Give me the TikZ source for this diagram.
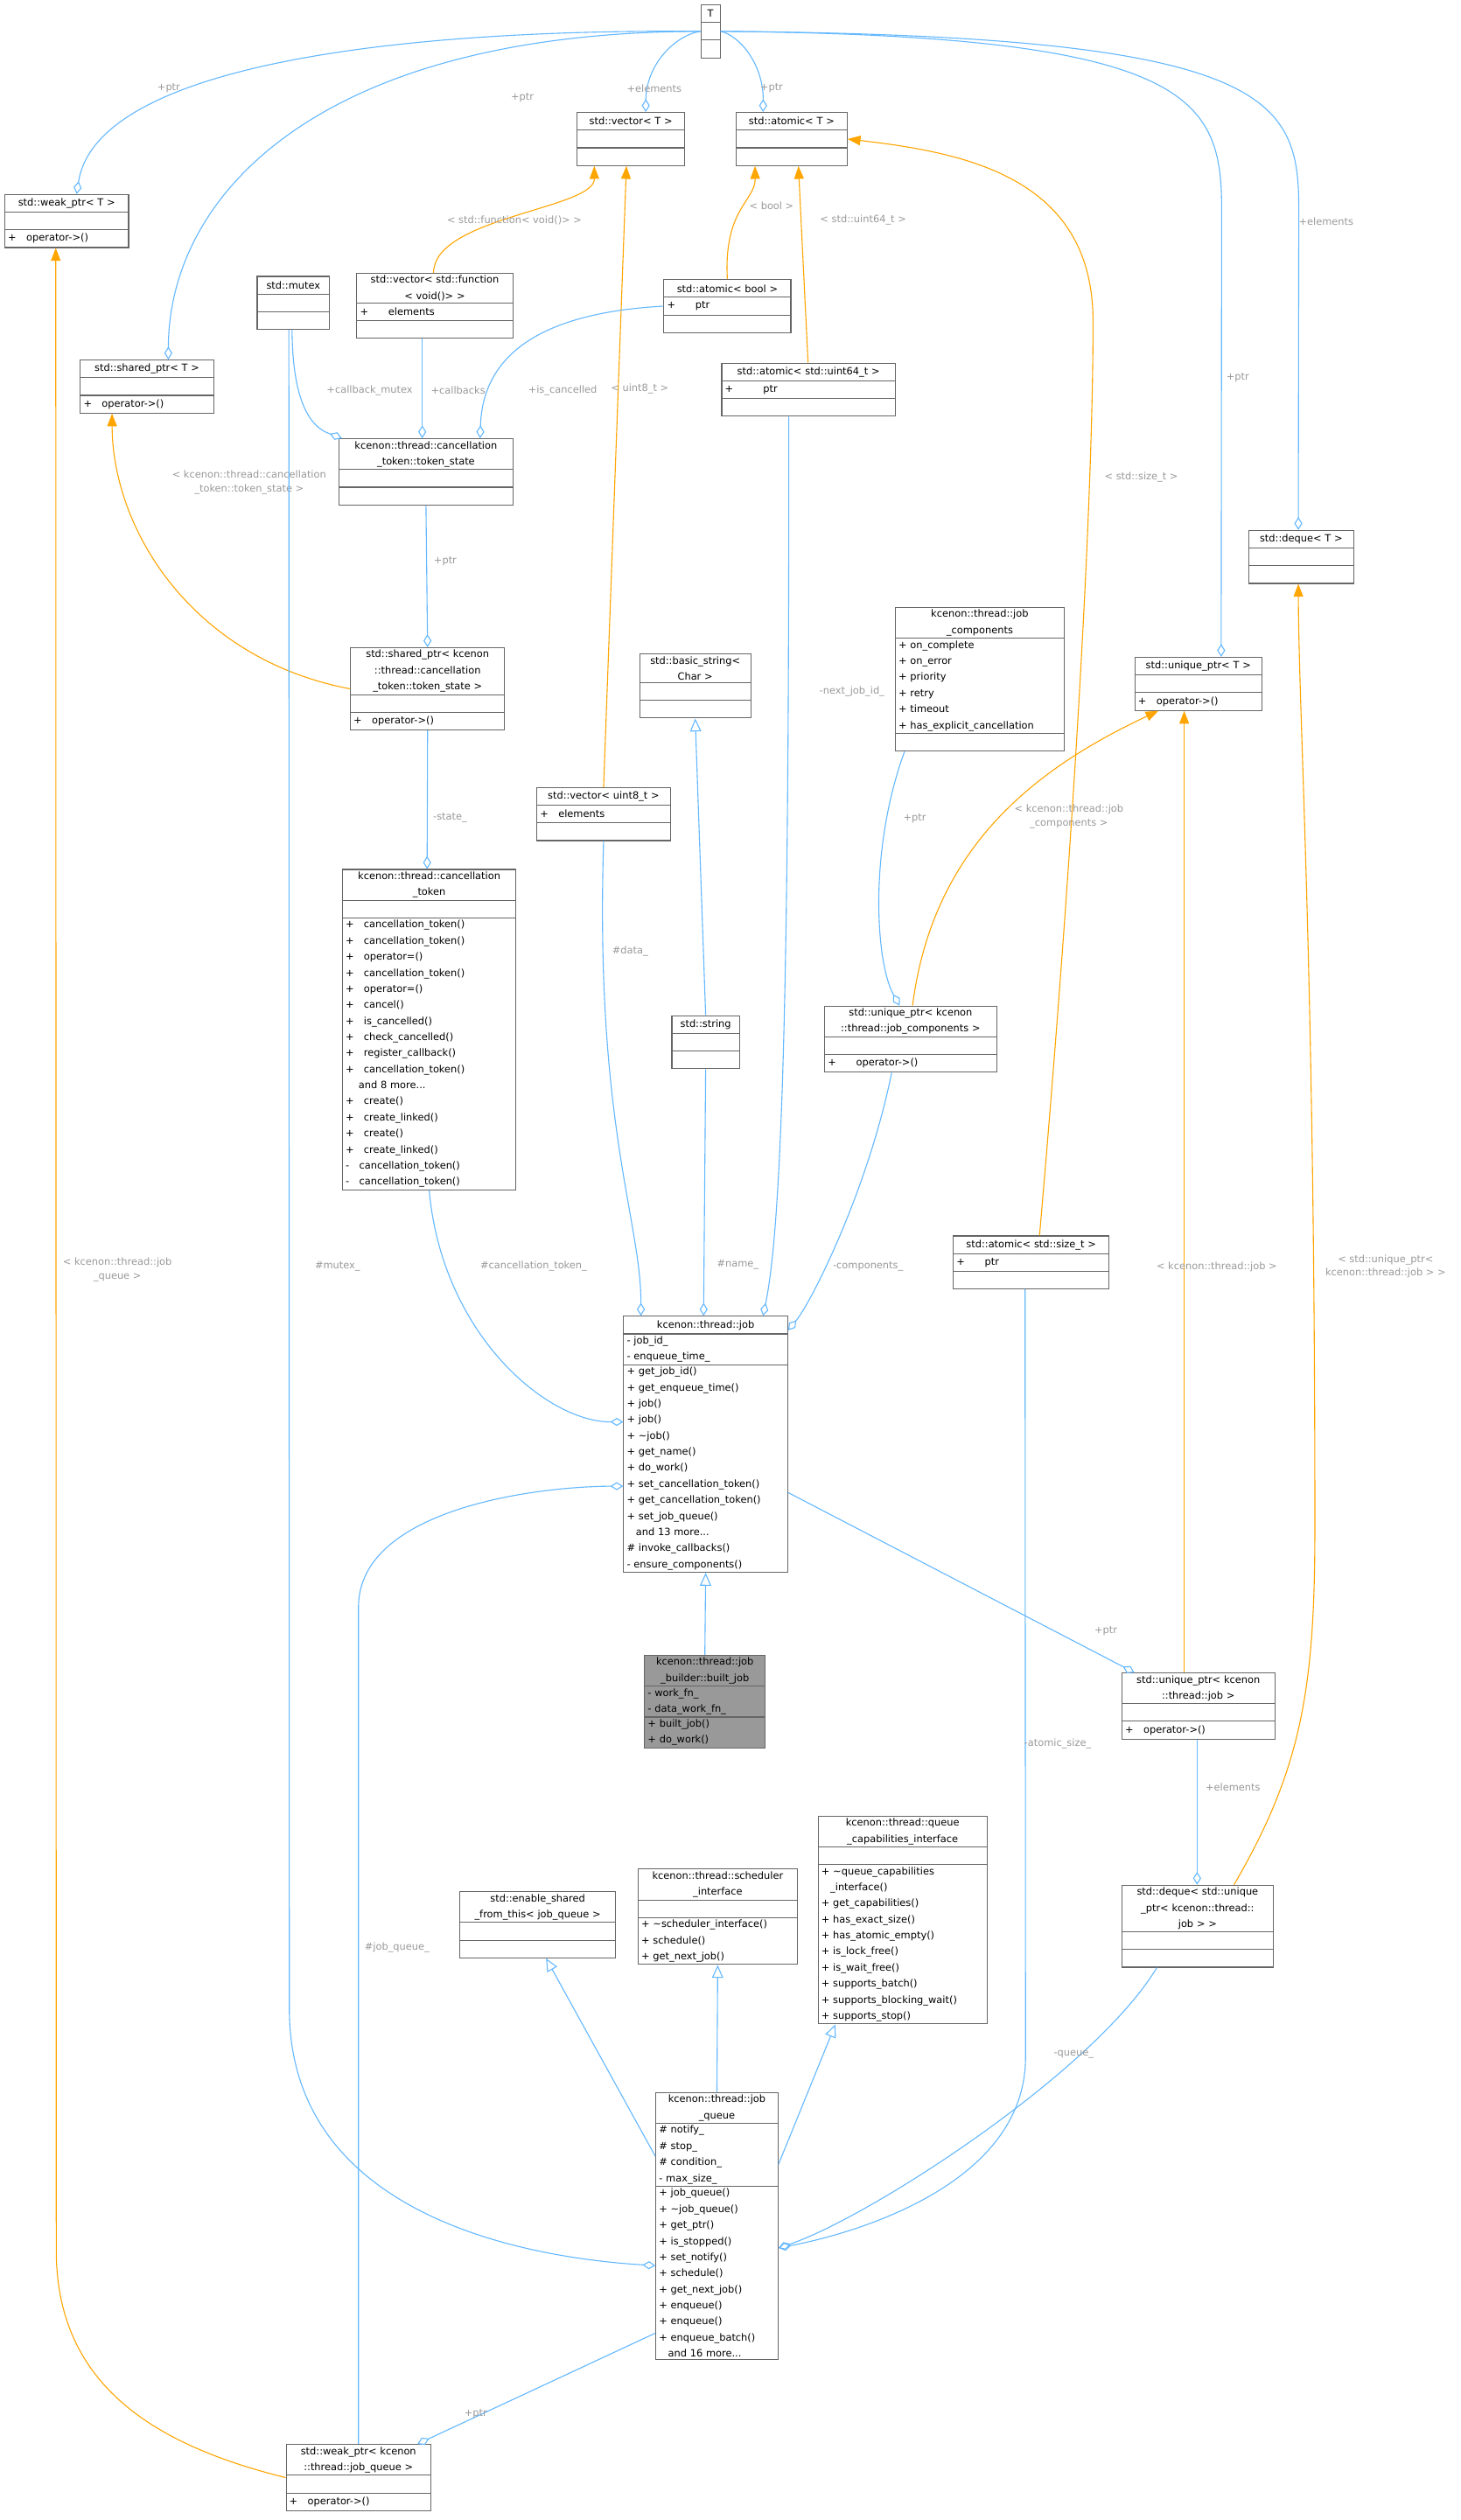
\documentclass[tikz,border=0pt]{standalone}
\usepackage{fontspec}
\setmainfont{DejaVu Sans}
\usetikzlibrary{arrows.meta,fit,calc}
\definecolor{eb}{HTML}{63B8FF}
\definecolor{eo}{HTML}{FFA500}
\definecolor{boxc}{HTML}{666666}
\definecolor{lblc}{HTML}{9A9A9A}
\definecolor{bjfill}{HTML}{999999}
\tikzset{
 part/.style={inner xsep=2pt,inner ysep=1.5pt,minimum height=11pt,outer sep=0pt,fill=white,font=\fontsize{6.2}{10}\selectfont},
 lbl/.style={text=lblc,align=center,font=\fontsize{6.2}{8.5}\selectfont},
 use/.style={draw=eb,line width=0.6pt,-{Diamond[open,length=8pt,width=5pt]}},
 tpl/.style={draw=eo,line width=0.6pt,-{Triangle[length=8pt,width=6pt]},fill=none},
 inh/.style={draw=eb,line width=0.6pt,-{Triangle[open,length=8pt,width=7pt]}},
}
\newcommand\cbox[8][]{%
  \pgfmathsetlengthmacro\tw{#5-4}%
  \node[part,anchor=north west,text width=\tw,align=center,#1] (#2-t) at (#3,#4) {#6};
  \node[part,anchor=north west,text width=\tw,align=left,#1] (#2-a) at (#2-t.south west) {#7};
  \node[part,anchor=north west,text width=\tw,align=left,#1] (#2-m) at (#2-a.south west) {#8};
  \node[draw=boxc,line width=0.6pt,fit=(#2-t)(#2-m),inner sep=0pt] (#2) {};
  \draw[boxc,line width=0.6pt] (#2-a.north west) -- (#2-a.north east) (#2-m.north west) -- (#2-m.north east);
}
\begin{document}
\begin{tikzpicture}[x=1pt,y=-1pt]
\useasboundingbox[fill=white] (0,0) rectangle (908.4,1568);
\cbox{T}{436}{3}{12}{T}{}{}
\cbox{wpT}{3}{121}{77}{std::weak\_ptr< T >}{}{+\quad operator->()}
\cbox{vT}{359}{70}{67}{std::vector< T >}{}{}
\cbox{aT}{458}{70}{69}{std::atomic< T >}{}{}
\cbox{mx}{160}{172}{45}{std::mutex}{}{}
\cbox{vf}{222}{170}{97}{std::vector< std::function\\< void()> >}{+\qquad elements}{}
\cbox{ab}{413}{174}{79}{std::atomic< bool >}{+\qquad ptr}{}
\cbox{spT}{50}{224}{83}{std::shared\_ptr< T >}{}{+\quad operator->()}
\cbox{au}{449}{226}{108}{std::atomic< std::uint64\_t >}{+\qquad\quad ptr}{}
\cbox{ts}{211}{273}{108}{kcenon::thread::cancellation\\\_token::token\_state}{}{}
\cbox{dqT}{777}{330}{65}{std::deque< T >}{}{}
\cbox{jc}{557}{378}{105}{kcenon::thread::job\\\_components}{+ on\_complete\\+ on\_error\\+ priority\\+ retry\\+ timeout\\+ has\_explicit\_cancellation}{}
\cbox{uT}{706}{409}{79}{std::unique\_ptr< T >}{}{+\quad operator->()}
\cbox{bs}{398}{407}{69}{std::basic\_string<\\Char >}{}{}
\cbox{sts}{218}{403}{96}{std::shared\_ptr< kcenon\\::thread::cancellation\\\_token::token\_state >}{}{+\quad operator->()}
\cbox{vu}{334}{490}{83}{std::vector< uint8\_t >}{+\quad elements}{}
\cbox{ct}{213}{541}{108}{kcenon::thread::cancellation\\\_token}{}{+\quad cancellation\_token()\\+\quad cancellation\_token()\\+\quad operator=()\\+\quad cancellation\_token()\\+\quad operator=()\\+\quad cancel()\\+\quad is\_cancelled()\\+\quad check\_cancelled()\\+\quad register\_callback()\\+\quad cancellation\_token()\\\hspace*{1.3em}and 8 more...\\+\quad create()\\+\quad create\_linked()\\+\quad create()\\+\quad create\_linked()\\-\quad cancellation\_token()\\-\quad cancellation\_token()}
\cbox{str}{418}{632}{42}{std::string}{}{}
\cbox{ujc}{513}{626}{107}{std::unique\_ptr< kcenon\\::thread::job\_components >}{}{+\qquad operator->()}
\cbox{as}{593}{769}{97}{std::atomic< std::size\_t >}{+\qquad ptr}{}
\cbox{job}{388}{819}{102}{kcenon::thread::job}{- job\_id\_\\- enqueue\_time\_}{+ get\_job\_id()\\+ get\_enqueue\_time()\\+ job()\\+ job()\\+ \textasciitilde job()\\+ get\_name()\\+ do\_work()\\+ set\_cancellation\_token()\\+ get\_cancellation\_token()\\+ set\_job\_queue()\\\hspace*{0.9em}and 13 more...\\\# invoke\_callbacks()\\- ensure\_components()}
\cbox[fill=bjfill]{bj}{401}{1030}{75}{kcenon::thread::job\\\_builder::built\_job}{- work\_fn\_\\- data\_work\_fn\_}{+ built\_job()\\+ do\_work()}
\cbox{uj}{698}{1041}{95}{std::unique\_ptr< kcenon\\::thread::job >}{}{+\quad operator->()}
\cbox{qc}{509}{1130}{105}{kcenon::thread::queue\\\_capabilities\_interface}{}{+ \textasciitilde queue\_capabilities\\\hspace*{0.9em}\_interface()\\+ get\_capabilities()\\+ has\_exact\_size()\\+ has\_atomic\_empty()\\+ is\_lock\_free()\\+ is\_wait\_free()\\+ supports\_batch()\\+ supports\_blocking\_wait()\\+ supports\_stop()}
\cbox{es}{286}{1177}{97}{std::enable\_shared\\\_from\_this< job\_queue >}{}{}
\cbox{si}{397}{1163}{99}{kcenon::thread::scheduler\\\_interface}{}{+ \textasciitilde scheduler\_interface()\\+ schedule()\\+ get\_next\_job()}
\cbox{dqj}{698}{1173}{94}{std::deque< std::unique\\\_ptr< kcenon::thread::\\job > >}{}{}
\cbox{jq}{408}{1302}{76}{kcenon::thread::job\\\_queue}{\# notify\_\\\# stop\_\\\# condition\_\\- max\_size\_}{+ job\_queue()\\+ \textasciitilde job\_queue()\\+ get\_ptr()\\+ is\_stopped()\\+ set\_notify()\\+ schedule()\\+ get\_next\_job()\\+ enqueue()\\+ enqueue()\\+ enqueue\_batch()\\\hspace*{0.9em}and 16 more...}
\cbox{wpj}{178}{1521}{90}{std::weak\_ptr< kcenon\\::thread::job\_queue >}{}{+\quad operator->()}
% usage from T
\draw[use] (T.west) .. controls (250,18) and (60,40) .. ([xshift=45pt]wpT.north west);
\draw[use] (T.west) .. controls (200,20) and (105,120) .. ([xshift=55pt]spT.north west);
\draw[use] (T.west) .. controls (420,22) and (402,40) .. ([xshift=43pt]vT.north west);
\draw[use] (T.east) .. controls (460,22) and (475,40) .. ([xshift=17pt]aT.north west);
\draw[use] (T.east) .. controls (740,22) and (760,60) .. (760,130) -- ([xshift=54pt]uT.north west);
\draw[use] (T.east) .. controls (790,22) and (808,60) .. (808,130) -- ([xshift=31pt]dqT.north west);
\node[lbl] (l1) at (105,55) {+ptr};
\node[lbl] (l2) at (325,61) {+ptr};
\node[lbl] (l3) at (407,55) {+elements};
\node[lbl] (l4) at (480,55) {+ptr};
\node[lbl] (l5) at (770,235) {+ptr};
\node[lbl] (l6) at (825,138) {+elements};
% templates
\draw[tpl] ([xshift=48pt]vf.north west) .. controls (270,135) and (370,130) .. ([xshift=11pt]vT.south west);
\draw[tpl] (vu.north) -- ([xshift=31pt]vT.south west);
\draw[tpl] (ab.north) .. controls (450,130) and (470,125) .. ([xshift=12pt]aT.south west);
\draw[tpl] ([xshift=54pt]au.north west) -- ([xshift=39pt]aT.south west);
\draw[tpl] ([xshift=54pt]as.north west) .. controls (670,500) and (680,300) .. (680,200) .. controls (680,110) and (600,95) .. (aT.east);
\draw[tpl] (sts.west) .. controls (120,410) and (70,330) .. ([xshift=20pt]spT.south west);
\draw[tpl] ([xshift=55pt]ujc.north west) .. controls (580,530) and (640,480) .. ([xshift=15pt]uT.south west);
\draw[tpl] ([xshift=39pt]uj.north west) -- ([xshift=31pt]uT.south west);
\draw[tpl] ([xshift=70pt]dqj.north west) .. controls (810,1100) and (818,1050) .. (818,950) .. controls (818,600) and (808,450) .. ([xshift=31pt]dqT.south west);
\draw[tpl] (wpj.west) .. controls (90,1520) and (35,1480) .. (35,1400) -- ([xshift=32pt]wpT.south west);
\node[lbl] (l7) at (320,137) {< std::function< void()> >};
\node[lbl] (l8) at (398,242) {< uint8\_t >};
\node[lbl] (l9) at (480,128) {< bool >};
\node[lbl] (l10) at (537,137) {< std::uint64\_t >};
\node[lbl] (l11) at (710,297) {< std::size\_t >};
\node[lbl] (l12) at (155,300) {< kcenon::thread::cancellation\\\_token::token\_state >};
\node[lbl] (l13) at (665,508) {< kcenon::thread::job\\\_components >};
\node[lbl] (l14) at (757,788) {< kcenon::thread::job >};
\node[lbl] (l15) at (862,788) {< std::unique\_ptr<\\kcenon::thread::job > >};
\node[lbl] (l16) at (73,790) {< kcenon::thread::job\\\_queue >};
% usage
\draw[use] ([xshift=22pt]mx.south west) .. controls (182,262) and (200,268) .. ([xshift=2pt]ts.north west);
\draw[use] ([xshift=41pt]vf.south west) -- ([xshift=52pt]ts.north west);
\draw[use] (ab.west) .. controls (330,195) and (300,225) .. ([xshift=88pt]ts.north west);
\draw[use] (ts.south) -- (sts.north);
\draw[use] (sts.south) -- ([xshift=53pt]ct.north west);
\draw[use] (ct.south) .. controls (275,830) and (340,885) .. ([yshift=-66pt]job.north west);
\draw[use] (vu.south) .. controls (370,700) and (399,760) .. ([xshift=11pt]job.north west);
\draw[use] (str.south) -- ([xshift=50pt]job.north west);
\draw[use] ([xshift=42pt]au.south west) .. controls (491,600) and (487,760) .. ([xshift=87pt]job.north west);
\draw[use] ([xshift=42pt]ujc.south west) .. controls (540,740) and (505,810) .. ([yshift=-9pt]job.north east);
\draw[use] ([xshift=6pt]jc.south west) .. controls (540,530) and (545,600) .. ([xshift=47pt]ujc.north west);
\draw[use] ([yshift=-110pt]job.north east) -- ([xshift=8pt]uj.north west);
\draw[use] ([xshift=47pt]uj.south west) -- ([xshift=47pt]dqj.north west);
\draw[use] (wpj.north) -- (223,1000) .. controls (223,940) and (330,925) .. ([yshift=-106pt]job.north west);
\draw[use] ([xshift=20pt]mx.south west) -- (180,1250) .. controls (180,1380) and (330,1405) .. ([yshift=-108pt]jq.north west);
\draw[use] ([xshift=45pt]as.south west) -- (638,1280) .. controls (638,1360) and (530,1390) .. ([yshift=-97pt]jq.north east);
\draw[use] ([xshift=22pt]dqj.south west) .. controls (680,1290) and (540,1380) .. ([yshift=-97pt]jq.north east);
\draw[use] ([yshift=-150pt]jq.north west) -- ([xshift=82pt]wpj.north west);
\node[lbl] (m1) at (230,243) {+callback\_mutex};
\node[lbl] (m2) at (285,243) {+callbacks};
\node[lbl] (m3) at (350,243) {+is\_cancelled};
\node[lbl] (m4) at (277,349) {+ptr};
\node[lbl] (m5) at (280,509) {-state\_};
\node[lbl] (m6) at (332,788) {\#cancellation\_token\_};
\node[lbl] (m7) at (392,592) {\#data\_};
\node[lbl] (m8) at (459,787) {\#name\_};
\node[lbl] (m9) at (530,430) {-next\_job\_id\_};
\node[lbl] (m10) at (540,788) {-components\_};
\node[lbl] (m11) at (569,509) {+ptr};
\node[lbl] (m12) at (688,1015) {+ptr};
\node[lbl] (m13) at (767,1112) {+elements};
\node[lbl] (m14) at (247,1212) {\#job\_queue\_};
\node[lbl] (m15) at (210,788) {\#mutex\_};
\node[lbl] (m16) at (658,1085) {-atomic\_size\_};
\node[lbl] (m17) at (668,1278) {-queue\_};
\node[lbl] (m18) at (296,1502) {+ptr};
% inheritance
\draw[inh] (str.north) -- (bs.south);
\draw[inh] (bj.north) -- (job.south);
\draw[inh] ([yshift=-40pt]jq.north west) -- ([xshift=54pt]es.south west);
\draw[inh] (jq.north) -- (si.south);
\draw[inh] ([yshift=-45pt]jq.north east) -- ([xshift=11pt]qc.south west);
\end{tikzpicture}
\end{document}
